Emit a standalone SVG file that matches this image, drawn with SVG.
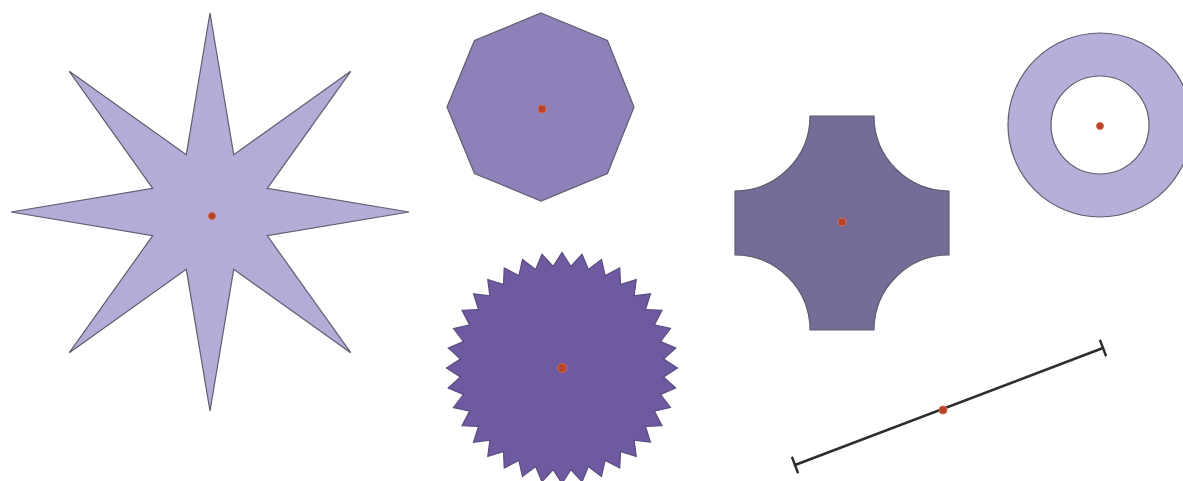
<svg xmlns="http://www.w3.org/2000/svg" xmlns:xlink="http://www.w3.org/1999/xlink" width="1183" height="481" viewBox="0 0 1183 481">
  <style>
    .shape { stroke: #5f5d6e; stroke-width: 1.2; stroke-linejoin: miter; }
    .dot { fill: #b8432a; stroke: #d06a4a; stroke-width: 1; }
    .seg { stroke: #2e2e2e; stroke-width: 2.6; fill: none; stroke-linecap: round; }
  </style>
  <defs>
    <polygon id="tooth" points="0,-115.5 8.89,-101.6 0,-92 -8.89,-101.6" fill="#6e5aa0" stroke="#5a4c7e" stroke-width="1.2"/>
    <marker id="tick" viewBox="0 0 4 18" refX="2" refY="9" markerWidth="4" markerHeight="18" markerUnits="userSpaceOnUse" orient="auto">
      <path d="M2,1 V17" stroke="#2e2e2e" stroke-width="2.4" stroke-linecap="round"/>
    </marker>
  </defs>
  <rect width="1183" height="481" fill="#ffffff"/>

  <g id="star">
    <polygon class="shape" fill="#b4acd6" points="210,13 233.7,154.7 350.7,71.3 267.3,188.3 409,212 267.3,235.7 350.7,352.7 233.7,269.3 210,411 186.3,269.3 69.3,352.7 152.7,235.7 11,212 152.7,188.3 69.3,71.3 186.3,154.7"/>
    <circle class="dot" cx="212" cy="216" r="3.5"/>
  </g>

  <g id="octagon">
    <polygon class="shape" fill="#8e80b9" points="541,13 607.5,40.5 634,107 607.5,173.5 541,201 474.5,173.5 447,107 474.5,40.5"/>
    <circle class="dot" cx="542" cy="109" r="4"/>
  </g>

  <g id="gear">
    <g transform="translate(562,368)">
      <use xlink:href="#tooth" transform="rotate(0)"/>
      <use xlink:href="#tooth" transform="rotate(10)"/>
      <use xlink:href="#tooth" transform="rotate(20)"/>
      <use xlink:href="#tooth" transform="rotate(30)"/>
      <use xlink:href="#tooth" transform="rotate(40)"/>
      <use xlink:href="#tooth" transform="rotate(50)"/>
      <use xlink:href="#tooth" transform="rotate(60)"/>
      <use xlink:href="#tooth" transform="rotate(70)"/>
      <use xlink:href="#tooth" transform="rotate(80)"/>
      <use xlink:href="#tooth" transform="rotate(90)"/>
      <use xlink:href="#tooth" transform="rotate(100)"/>
      <use xlink:href="#tooth" transform="rotate(110)"/>
      <use xlink:href="#tooth" transform="rotate(120)"/>
      <use xlink:href="#tooth" transform="rotate(130)"/>
      <use xlink:href="#tooth" transform="rotate(140)"/>
      <use xlink:href="#tooth" transform="rotate(150)"/>
      <use xlink:href="#tooth" transform="rotate(160)"/>
      <use xlink:href="#tooth" transform="rotate(170)"/>
      <use xlink:href="#tooth" transform="rotate(180)"/>
      <use xlink:href="#tooth" transform="rotate(190)"/>
      <use xlink:href="#tooth" transform="rotate(200)"/>
      <use xlink:href="#tooth" transform="rotate(210)"/>
      <use xlink:href="#tooth" transform="rotate(220)"/>
      <use xlink:href="#tooth" transform="rotate(230)"/>
      <use xlink:href="#tooth" transform="rotate(240)"/>
      <use xlink:href="#tooth" transform="rotate(250)"/>
      <use xlink:href="#tooth" transform="rotate(260)"/>
      <use xlink:href="#tooth" transform="rotate(270)"/>
      <use xlink:href="#tooth" transform="rotate(280)"/>
      <use xlink:href="#tooth" transform="rotate(290)"/>
      <use xlink:href="#tooth" transform="rotate(300)"/>
      <use xlink:href="#tooth" transform="rotate(310)"/>
      <use xlink:href="#tooth" transform="rotate(320)"/>
      <use xlink:href="#tooth" transform="rotate(330)"/>
      <use xlink:href="#tooth" transform="rotate(340)"/>
      <use xlink:href="#tooth" transform="rotate(350)"/>
      <circle cx="0" cy="0" r="101.4" fill="#6e5aa0"/>
    </g>
    <circle class="dot" cx="562" cy="368" r="4.5" stroke="#e07a5a" stroke-width="1.5"/>
  </g>

  <g id="cross">
    <path class="shape" fill="#766c98" stroke="#6a6580" d="M810,116 H874 A75,75 0 0 0 949,191 V255 A75,75 0 0 0 874,330 H810 A75,75 0 0 0 735,255 V191 A75,75 0 0 0 810,116 Z"/>
    <circle class="dot" cx="842" cy="222" r="4"/>
  </g>

  <g id="ring">
    <path class="shape" fill="#b7afda" fill-rule="evenodd" d="M1192,125 A92,92 0 1 0 1008,125 A92,92 0 1 0 1192,125 Z M1149,125 A49,49 0 1 0 1051,125 A49,49 0 1 0 1149,125 Z"/>
    <circle class="dot" cx="1100" cy="126" r="3.5"/>
  </g>

  <g id="connectors">
    <line class="seg" x1="795" y1="465" x2="1103" y2="348" marker-start="url(#tick)" marker-end="url(#tick)"/>
  </g>
  <g id="midpoint">
    <circle class="dot" cx="943" cy="410" r="4" fill="#c8603a"/>
  </g>
</svg>
